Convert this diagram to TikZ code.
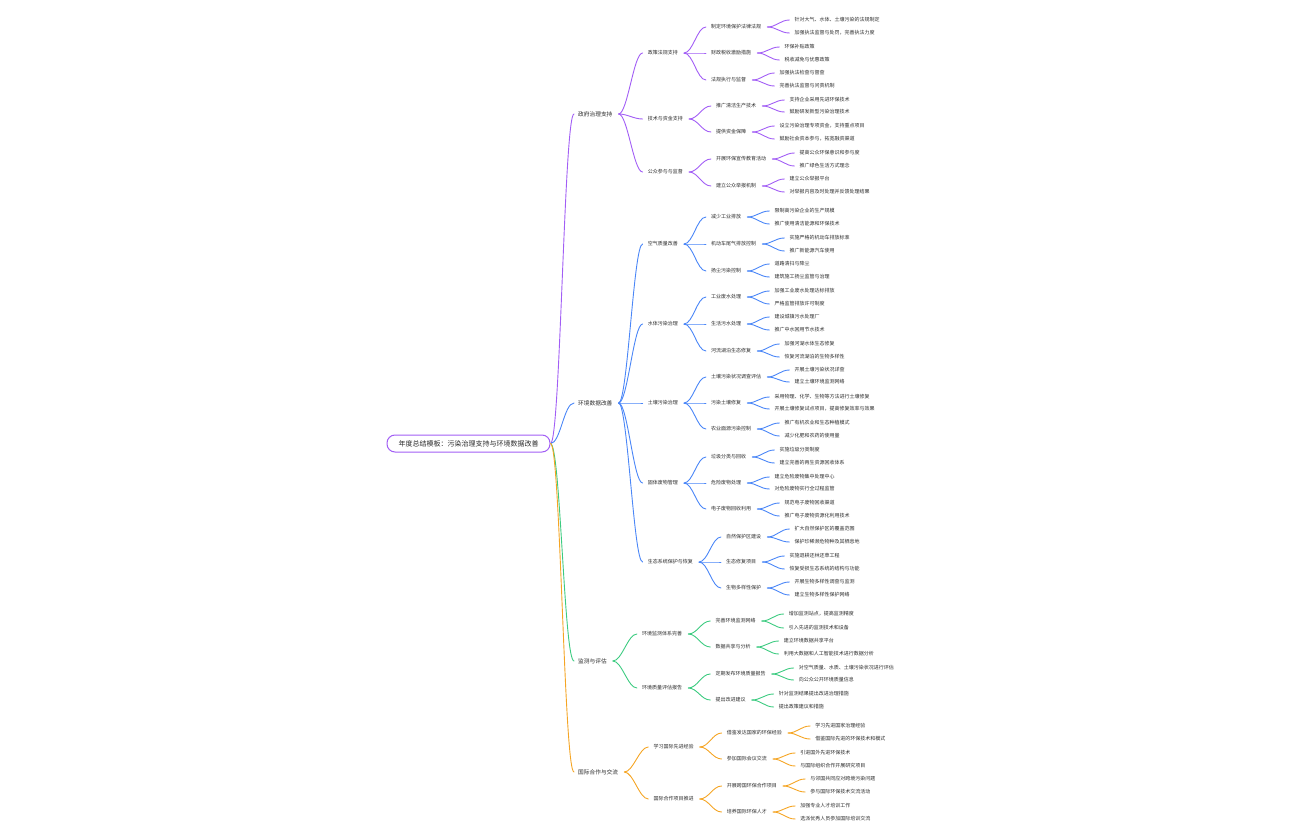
\documentclass[tikz,border=0pt]{standalone}
\usepackage{fontspec}
\setmainfont{Noto Sans CJK SC}
\usetikzlibrary{calc}
\definecolor{cpur}{HTML}{A25EF5}
\definecolor{cblu}{HTML}{4A86F7}
\definecolor{cgrn}{HTML}{3CCB80}
\definecolor{corg}{HTML}{F5A524}
\definecolor{ctxt}{HTML}{2B2B2B}
\tikzset{
  txt/.style={anchor=west, inner xsep=3pt, inner ysep=1pt, text=ctxt, font=\fontsize{5}{6}\selectfont},
  lone/.style={txt, font=\fontsize{5.7}{7}\selectfont},
  rootbox/.style={draw=cpur, line width=1pt, rounded corners=8pt, fill=white, minimum width=163pt, minimum height=17pt, inner sep=0pt, text=ctxt, font=\fontsize{7}{8}\selectfont},
  lnk/.style={line width=0.9pt, line cap=round},
}
\def\cc{cpur}
\newcommand\kid[5]{% #1 gap, #2 name, #3 parent, #4 y, #5 text
  \node[txt] (#2) at ($(#3.east |- 0,#4)+(#1,0)$) {#5};
  \draw[lnk,\cc] ([xshift=3pt]#3.east) .. controls +(9,0) and +(-9,0) .. ([xshift=-2pt]#2.west);
}
\newcommand\Ltwo{\kid{29}}
\newcommand\Lthr{\kid{27}}
\newcommand\Leaf{\kid{27}}
\begin{document}
\begin{tikzpicture}[x=1pt,y=-1pt]
\useasboundingbox (0,0) rectangle (1296,840);
\node[rootbox] (r) at (468.5,443.5) {年度总结模板：污染治理支持与环境数据改善};
\node[lone] (a) at (575,114) {政府治理支持};
\node[lone] (b) at (575,403) {环境数据改善};
\node[lone] (c) at (575,661) {监测与评估};
\node[lone] (d) at (575,772) {国际合作与交流};
\foreach \n/\col in {a/cpur,b/cblu,c/cgrn,d/corg}
  \draw[lnk,\col] (r.east) .. controls +(10,0) and +(-10,0) .. ([xshift=-1pt]\n.west);
% ---- section a
\def\cc{cpur}
\Ltwo{a1}{a}{53}{政策法规支持}
\Lthr{a11}{a1}{27}{制定环境保护法律法规}
\Leaf{a111}{a11}{20}{针对大气、水体、土壤污染的法规制定}
\Leaf{a112}{a11}{33}{加强执法监督与处罚，完善执法力度}
\Lthr{a12}{a1}{53}{财政税收激励措施}
\Leaf{a121}{a12}{47}{环保补贴政策}
\Leaf{a122}{a12}{60}{税收减免与优惠政策}
\Lthr{a13}{a1}{80}{法规执行与监督}
\Leaf{a131}{a13}{73}{加强执法检查与督查}
\Leaf{a132}{a13}{86}{完善执法监督与问责机制}
\Ltwo{a2}{a}{119}{技术与资金支持}
\Lthr{a21}{a2}{106}{推广清洁生产技术}
\Leaf{a211}{a21}{100}{支持企业采用先进环保技术}
\Leaf{a212}{a21}{112}{鼓励研发新型污染治理技术}
\Lthr{a22}{a2}{132}{提供资金保障}
\Leaf{a221}{a22}{126}{设立污染治理专项资金，支持重点项目}
\Leaf{a222}{a22}{139}{鼓励社会资本参与，拓宽融资渠道}
\Ltwo{a3}{a}{172}{公众参与与监督}
\Lthr{a31}{a3}{159}{开展环保宣传教育活动}
\Leaf{a311}{a31}{153}{提高公众环保意识和参与度}
\Leaf{a312}{a31}{166}{推广绿色生活方式理念}
\Lthr{a32}{a3}{186}{建立公众举报机制}
\Leaf{a321}{a32}{179}{建立公众举报平台}
\Leaf{a322}{a32}{192}{对举报内容及时处理并反馈处理结果}
% ---- section b
\def\cc{cblu}
\Ltwo{b1}{b}{244}{空气质量改善}
\Lthr{b11}{b1}{217}{减少工业排放}
\Leaf{b111}{b11}{211}{限制高污染企业的生产规模}
\Leaf{b112}{b11}{224}{推广使用清洁能源和环保技术}
\Lthr{b12}{b1}{244}{机动车尾气排放控制}
\Leaf{b121}{b12}{238}{实施严格的机动车排放标准}
\Leaf{b122}{b12}{251}{推广新能源汽车使用}
\Lthr{b13}{b1}{271}{扬尘污染控制}
\Leaf{b131}{b13}{264}{道路清扫与降尘}
\Leaf{b132}{b13}{277}{建筑施工扬尘监管与治理}
\Ltwo{b2}{b}{324}{水体污染治理}
\Lthr{b21}{b2}{297}{工业废水处理}
\Leaf{b211}{b21}{291}{加强工业废水处理达标排放}
\Leaf{b212}{b21}{304}{严格监管排放许可制度}
\Lthr{b22}{b2}{324}{生活污水处理}
\Leaf{b221}{b22}{317}{建设城镇污水处理厂}
\Leaf{b222}{b22}{330}{推广中水回用节水技术}
\Lthr{b23}{b2}{351}{河流湖泊生态修复}
\Leaf{b231}{b23}{344}{加强河湖水体生态修复}
\Leaf{b232}{b23}{357}{恢复河流湖泊的生物多样性}
\Ltwo{b3}{b}{403}{土壤污染治理}
\Lthr{b31}{b3}{377}{土壤污染状况调查评估}
\Leaf{b311}{b31}{370}{开展土壤污染状况详查}
\Leaf{b312}{b31}{382}{建立土壤环境监测网络}
\Lthr{b32}{b3}{403}{污染土壤修复}
\Leaf{b321}{b32}{397}{采用物理、化学、生物等方法进行土壤修复}
\Leaf{b322}{b32}{409}{开展土壤修复试点项目，提高修复效率与效果}
\Lthr{b33}{b3}{429}{农业面源污染控制}
\Leaf{b331}{b33}{423}{推广有机农业和生态种植模式}
\Leaf{b332}{b33}{436}{减少化肥和农药的使用量}
\Ltwo{b4}{b}{483}{固体废物管理}
\Lthr{b41}{b4}{457}{垃圾分类与回收}
\Leaf{b411}{b41}{450}{实施垃圾分类制度}
\Leaf{b412}{b41}{463}{建立完善的再生资源回收体系}
\Lthr{b42}{b4}{483}{危险废物处理}
\Leaf{b421}{b42}{477}{建立危险废物集中处理中心}
\Leaf{b422}{b42}{489}{对危险废物实行全过程监管}
\Lthr{b43}{b4}{509}{电子废物回收利用}
\Leaf{b431}{b43}{503}{规范电子废物回收渠道}
\Leaf{b432}{b43}{516}{推广电子废物资源化利用技术}
\Ltwo{b5}{b}{562}{生态系统保护与恢复}
\Lthr{b51}{b5}{537}{自然保护区建设}
\Leaf{b511}{b51}{529}{扩大自然保护区的覆盖范围}
\Leaf{b512}{b51}{542}{保护珍稀濒危物种及其栖息地}
\Lthr{b52}{b5}{562}{生态修复项目}
\Leaf{b521}{b52}{556}{实施退耕还林还草工程}
\Leaf{b522}{b52}{569}{恢复受损生态系统的结构与功能}
\Lthr{b53}{b5}{588}{生物多样性保护}
\Leaf{b531}{b53}{582}{开展生物多样性调查与监测}
\Leaf{b532}{b53}{595}{建立生物多样性保护网络}
% ---- section c
\def\cc{cgrn}
\Ltwo{c1}{c}{634}{环境监测体系完善}
\Lthr{c11}{c1}{621}{完善环境监测网络}
\Leaf{c111}{c11}{614}{增加监测站点，提高监测精度}
\Leaf{c112}{c11}{628}{引入先进的监测技术和设备}
\Lthr{c12}{c1}{647}{数据共享与分析}
\Leaf{c121}{c12}{641}{建立环境数据共享平台}
\Leaf{c122}{c12}{654}{利用大数据和人工智能技术进行数据分析}
\Ltwo{c2}{c}{688}{环境质量评估报告}
\Lthr{c21}{c2}{674}{定期发布环境质量报告}
\Leaf{c211}{c21}{668}{对空气质量、水质、土壤污染状况进行评估}
\Leaf{c212}{c21}{680}{向公众公开环境质量信息}
\Lthr{c22}{c2}{700}{提出改进建议}
\Leaf{c221}{c22}{694}{针对监测结果提出改进治理措施}
\Leaf{c222}{c22}{707}{提出政策建议和措施}
% ---- section d
\def\cc{corg}
\Ltwo{d1}{d}{747}{学习国际先进经验}
\Lthr{d11}{d1}{733}{借鉴发达国家的环保经验}
\Leaf{d111}{d11}{726}{学习先进国家治理经验}
\Leaf{d112}{d11}{739}{借鉴国际先进的环保技术和模式}
\Lthr{d12}{d1}{759}{参加国际会议交流}
\Leaf{d121}{d12}{753}{引进国外先进环保技术}
\Leaf{d122}{d12}{766}{与国际组织合作开展研究项目}
\Ltwo{d2}{d}{799}{国际合作项目推进}
\Lthr{d21}{d2}{786}{开展跨国环保合作项目}
\Leaf{d211}{d21}{779}{与邻国共同应对跨境污染问题}
\Leaf{d212}{d21}{792}{参与国际环保技术交流活动}
\Lthr{d22}{d2}{812}{培养国际环保人才}
\Leaf{d221}{d22}{806}{加强专业人才培训工作}
\Leaf{d222}{d22}{819}{选派优秀人员参加国际培训交流}
\end{tikzpicture}
\end{document}
